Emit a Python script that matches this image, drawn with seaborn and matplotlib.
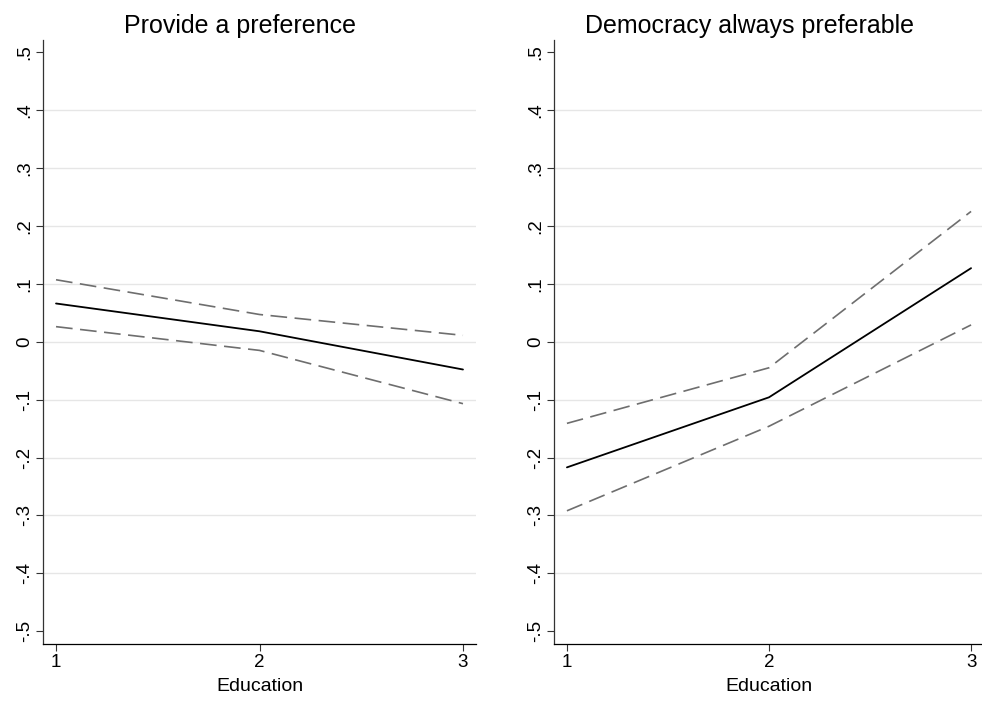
import pandas as pd
import numpy as np
import matplotlib
matplotlib.use("Agg")
import matplotlib.pyplot as plt
import seaborn as sns

# values
education = [1, 2, 3]

pref_mean = [0.066, 0.018, -0.048]
pref_upper = [0.107, 0.047, 0.011]
pref_lower = [0.026, -0.015, -0.107]

demo_mean = [-0.217, -0.096, 0.127]
demo_upper = [-0.141, -0.045, 0.225]
demo_lower = [-0.292, -0.146, 0.029]

panel_titles = ["Provide a preference", "Democracy always preferable"]
y_ticks = [0.5, 0.4, 0.3, 0.2, 0.1, 0.0, -0.1, -0.2, -0.3, -0.4, -0.5]
y_tick_labels = [".5", ".4", ".3", ".2", ".1", "0", "-.1", "-.2", "-.3", "-.4", "-.5"]
x_label = "Education"


def make_frame(mean, upper, lower):
    rows = []
    for name, vals in [("mean", mean), ("upper", upper), ("lower", lower)]:
        for x, y in zip(education, vals):
            rows.append({"Education": x, "effect": y, "series": name})
    return pd.DataFrame(rows)


sns.set_theme(style="white")
plt.rcParams["font.family"] = ["Liberation Sans", "DejaVu Sans"]
plt.rcParams["text.color"] = "black"
plt.rcParams["xtick.color"] = "black"
plt.rcParams["ytick.color"] = "black"
plt.rcParams["axes.labelcolor"] = "black"

fig = plt.figure(figsize=(9.82, 7.02), dpi=100)
ax1 = fig.add_axes([43 / 982, 58 / 702, 433 / 982, 604 / 702])
ax2 = fig.add_axes([554 / 982, 58 / 702, 430 / 982, 604 / 702])

panels = [
    (ax1, make_frame(pref_mean, pref_upper, pref_lower), panel_titles[0]),
    (ax2, make_frame(demo_mean, demo_upper, demo_lower), panel_titles[1]),
]

for ax, df, title in panels:
    # confidence bounds (dashed) then the point estimate
    for name in ["upper", "lower"]:
        sns.lineplot(data=df[df["series"] == name], x="Education", y="effect",
                     ax=ax, color="#6e6e6e", lw=1.2, estimator=None)
        ax.lines[-1].set_dashes((10, 4.5))
    sns.lineplot(data=df[df["series"] == "mean"], x="Education", y="effect",
                 ax=ax, color="black", lw=1.3, estimator=None)

    ax.set_xlim(0.936, 3.064)
    ax.set_ylim(-0.522, 0.521)
    ax.set_xticks(education)
    ax.set_xticklabels([str(e) for e in education], fontsize=13.5)
    ax.set_yticks(y_ticks)
    ax.set_yticklabels(y_tick_labels, rotation=90, va="center", fontsize=13.5)
    ax.set_xlabel(x_label, fontsize=14, labelpad=5)
    ax.set_ylabel("")
    ax.set_title(title, fontsize=18, x=0.455, pad=5)

    ax.tick_params(axis="both", length=5, width=0.8, color="#333333",
                   bottom=True, left=True, pad=2)
    ax.grid(axis="y", color="#e6e6e6", lw=1.0)
    ax.grid(axis="x", visible=False)
    gl = ax.yaxis.get_gridlines()
    gl[0].set_visible(False)
    gl[-1].set_visible(False)

    for side in ["top", "right"]:
        ax.spines[side].set_visible(False)
    ax.spines["left"].set_color("#333333")
    ax.spines["bottom"].set_color("black")
    ax.spines["left"].set_linewidth(0.9)
    ax.spines["bottom"].set_linewidth(0.9)

fig.savefig("out.png", dpi=100, facecolor="white")
